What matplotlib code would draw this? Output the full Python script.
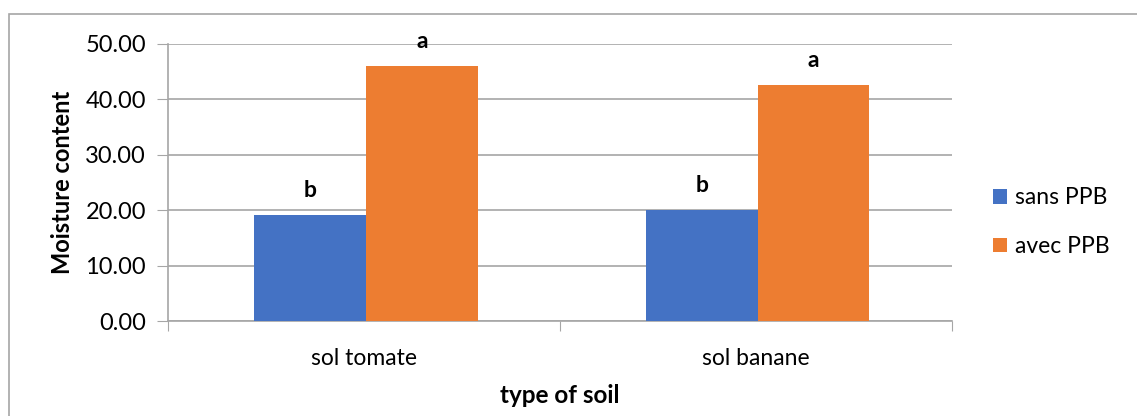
import matplotlib.pyplot as plt
import matplotlib.patches as mpatches
import numpy as np

# data
categories = ['sol tomate', 'sol banane']
sans_ppb = [19.14, 20.04]
avec_ppb = [46.03, 42.60]
sans_letters = ['b', 'b']
avec_letters = ['a', 'a']
series_names = ['sans PPB', 'avec PPB']

plt.rcParams['font.family'] = ['Lato', 'DejaVu Sans']

fig = plt.figure(figsize=(11.37, 4.16), dpi=100)
ax = fig.add_axes([0.148, 0.2276, 0.689, 0.6674])

x = np.arange(len(categories)) + 0.5
width = 0.285
b1 = ax.bar(x - width / 2 + 0.005, sans_ppb, width, color='#4472C4', label=series_names[0], zorder=3)
b2 = ax.bar(x + width / 2 + 0.005, avec_ppb, width, color='#ED7D31', label=series_names[1], zorder=3)

# significance letters above bars
for bars, letters in [(b1, sans_letters), (b2, avec_letters)]:
    for rect, lab in zip(bars, letters):
        ax.annotate(lab, (rect.get_x() + rect.get_width() / 2, rect.get_height()),
                    xytext=(0, 13), textcoords='offset points', ha='center', va='baseline',
                    fontsize=16.5, fontweight='bold')

ax.set_xlim(0, 2)
ax.set_ylim(0, 50)
ax.set_yticks(np.arange(0, 51, 10))
ax.set_yticklabels([f'{v:.2f}' for v in np.arange(0, 51, 10)], fontsize=17)
ax.set_xticks([0, 1, 2])
ax.set_xticklabels([])
ax.set_xticks(x, minor=True)
ax.set_xticklabels(categories, minor=True, fontsize=16.5)
ax.tick_params(axis='x', which='minor', length=0, pad=19)
ax.tick_params(axis='x', which='major', length=7, color='#a6a6a6')
ax.tick_params(axis='y', length=8, color='#a6a6a6', pad=8)
ax.grid(axis='y', color='#a6a6a6', linewidth=1.2, zorder=0)

for side in ['top', 'right']:
    ax.spines[side].set_visible(False)
for side in ['left', 'bottom']:
    ax.spines[side].set_color('#a6a6a6')
    ax.spines[side].set_linewidth(1.2)

ax.set_ylabel('Moisture content', fontsize=17, fontweight='bold', labelpad=8)
ax.set_xlabel('type of soil', fontsize=17.5, fontweight='bold', labelpad=11)

ax.legend(loc='center left', bbox_to_anchor=(1.053, 0.357), frameon=False, fontsize=16.5,
          borderpad=0, borderaxespad=0,
          handlelength=0.6, handleheight=0.6, handletextpad=0.35, labelspacing=1.2)

# chart frame
fig.patches.append(mpatches.Rectangle((9 / 1137, -0.1), 1.2, 1 - 14 / 416 + 0.1,
                                      transform=fig.transFigure, fill=False,
                                      edgecolor='#a6a6a6', linewidth=1.2))

plt.savefig('out.png', dpi=100)
